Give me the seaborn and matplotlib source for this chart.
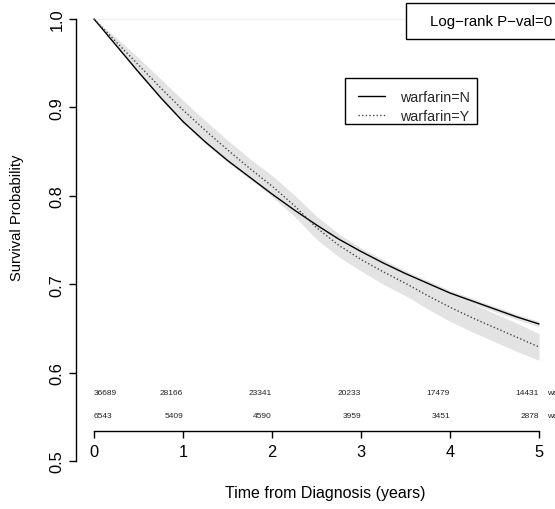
import matplotlib
matplotlib.use("Agg")
import matplotlib.pyplot as plt
from matplotlib.patches import Rectangle
from matplotlib.lines import Line2D
import pandas as pd
import seaborn as sns

# Kaplan-Meier survival estimates (years since diagnosis)
times = [0.0, 0.25, 0.5, 0.75, 1.0, 1.25, 1.5, 1.75, 2.0, 2.25, 2.5,
         2.75, 3.0, 3.25, 3.5, 3.75, 4.0, 4.25, 4.5, 4.75, 5.0]

surv_n = [1.000, 0.970, 0.940, 0.911, 0.884, 0.861, 0.840, 0.821, 0.802, 0.784, 0.767,
          0.751, 0.737, 0.724, 0.712, 0.701, 0.690, 0.681, 0.672, 0.663, 0.655]
lower_n = [1.000, 0.969, 0.938, 0.909, 0.882, 0.859, 0.838, 0.819, 0.800, 0.781, 0.764,
           0.748, 0.734, 0.721, 0.709, 0.698, 0.687, 0.678, 0.669, 0.660, 0.652]
upper_n = [1.000, 0.971, 0.942, 0.913, 0.886, 0.863, 0.842, 0.823, 0.804, 0.787, 0.770,
           0.754, 0.740, 0.727, 0.715, 0.704, 0.693, 0.684, 0.675, 0.666, 0.658]

surv_y = [1.000, 0.974, 0.948, 0.922, 0.897, 0.874, 0.852, 0.831, 0.811, 0.789, 0.764,
          0.744, 0.728, 0.714, 0.701, 0.687, 0.674, 0.662, 0.651, 0.640, 0.629]
lower_y = [1.000, 0.969, 0.940, 0.912, 0.886, 0.863, 0.841, 0.820, 0.799, 0.777, 0.751,
           0.731, 0.715, 0.700, 0.687, 0.672, 0.658, 0.646, 0.635, 0.624, 0.614]
upper_y = [1.000, 0.979, 0.956, 0.932, 0.908, 0.885, 0.863, 0.842, 0.823, 0.801, 0.777,
           0.757, 0.741, 0.728, 0.715, 0.702, 0.690, 0.678, 0.667, 0.656, 0.644]

groups = ["warfarin=N", "warfarin=Y"]

# Number at risk table
risk_times = [0, 1, 2, 3, 4, 5]
risk_n = [36689, 28166, 23341, 20233, 17479, 14431]
risk_y = [6543, 5409, 4590, 3959, 3451, 2878]

y_ticks = [0.5, 0.6, 0.7, 0.8, 0.9, 1.0]
x_ticks = [0, 1, 2, 3, 4, 5]

pval_text = "Log\u2212rank P\u2212val=0"

sns.set_theme(style="white")
plt.rcParams["font.family"] = ["Liberation Sans", "DejaVu Sans"]

W, H = 555, 510
fig = plt.figure(figsize=(W / 100, H / 100), dpi=100)
ax = fig.add_axes([76.2 / W, 1 - 479.7 / H, (556.8 - 76.2) / W, (479.7 - 2.3) / H])
ax.set_facecolor("white")

df = pd.DataFrame({
    "time": times * 2,
    "surv": surv_n + surv_y,
    "group": [groups[0]] * len(times) + [groups[1]] * len(times),
})

# faint reference at full survival
ax.hlines(1.0, times[0], 5.2, color="#f1f1f1", lw=1, zorder=0)

# confidence bands
ax.fill_between(times, lower_n, upper_n, color="#e3e3e3", lw=0, zorder=1)
ax.fill_between(times, lower_y, upper_y, color="#e3e3e3", lw=0, zorder=1)

sns.lineplot(data=df[df.group == groups[0]], x="time", y="surv", ax=ax,
             color="black", lw=1.0, estimator=None, zorder=3)
sns.lineplot(data=df[df.group == groups[1]], x="time", y="surv", ax=ax,
             color="#444444", lw=1.0, estimator=None, zorder=3)
ax.lines[-1].set_linestyle((0, (1, 1.6)))

ax.set_xlim(-0.2, 5.2)
ax.set_ylim(0.48, 1.02)

# axes styling
for s in ["top", "right"]:
    ax.spines[s].set_visible(False)
ax.spines["left"].set_bounds(0.5, 1.0)
ax.spines["left"].set_color("black")
ax.spines["left"].set_linewidth(1.0)
ax.spines["bottom"].set_position(("data", 0.534))
ax.spines["bottom"].set_bounds(0, 5)
ax.spines["bottom"].set_color("black")
ax.spines["bottom"].set_linewidth(1.0)

ax.set_yticks(y_ticks)
ax.set_yticklabels([f"{v:.1f}" for v in y_ticks], rotation=90, va="center")
ax.set_xticks(x_ticks)
ax.set_xticklabels([str(v) for v in x_ticks])
ax.tick_params(axis="both", direction="out", length=5, width=1.0, color="black",
               labelsize=11.8, labelcolor="black")
ax.tick_params(axis="y", pad=3.5)
ax.tick_params(axis="x", pad=4.5)
ax.tick_params(left=True, bottom=True)
ax.set_xlabel("")
ax.set_ylabel("")

fig.text(325 / W, 1 - 494 / H, "Time from Diagnosis (years)", ha="center",
         va="center", fontsize=11.5, color="black")
fig.text(17 / W, 1 - 218 / H, "Survival Probability", ha="center", va="center",
         rotation=90, fontsize=10.6, color="black")

# number at risk
row_y = [0.577, 0.552]
for i, (t, a, b) in enumerate(zip(risk_times, risk_n, risk_y)):
    ha = "left" if i == 0 else "right"
    ax.text(t, row_y[0], str(a), ha=ha, va="center", fontsize=6, color="#222222")
    ax.text(t, row_y[1], str(b), ha=ha, va="center", fontsize=6, color="#222222")
for g, yy in zip(groups, row_y):
    ax.text(5.085, yy, g, ha="left", va="center", fontsize=6, color="#222222")

# legend: entries placed without a frame, box drawn behind them
handles = [Line2D([], [], color="black", lw=1.0),
           Line2D([], [], color="#444444", lw=1.0, linestyle=(0, (1, 1.6)))]
leg = ax.legend(handles, groups, loc="center left",
                bbox_to_anchor=(358 / W, 1 - 107.5 / H), bbox_transform=fig.transFigure,
                borderaxespad=0, borderpad=0, frameon=False,
                fontsize=10.3, handlelength=1.9, handletextpad=1.05,
                labelspacing=0.34)
leg.set_zorder(6)
legend_box = Rectangle((345 / W, 1 - 125 / H), (477 - 345) / W, (125 - 79) / H,
                       transform=fig.transFigure, facecolor="white",
                       edgecolor="black", lw=1.0, zorder=5, clip_on=False)
ax.add_patch(legend_box)

# log-rank box at top right
fig.patches.append(Rectangle((406 / W, 1 - 40 / H), 200 / W, 36 / H,
                             transform=fig.transFigure, facecolor="white",
                             edgecolor="black", lw=1.0, zorder=5))
fig.text(430 / W, 1 - 21.7 / H, pval_text, ha="left", va="center",
         fontsize=10.8, color="black", zorder=6)

fig.savefig("out.png", dpi=100, facecolor="white")
